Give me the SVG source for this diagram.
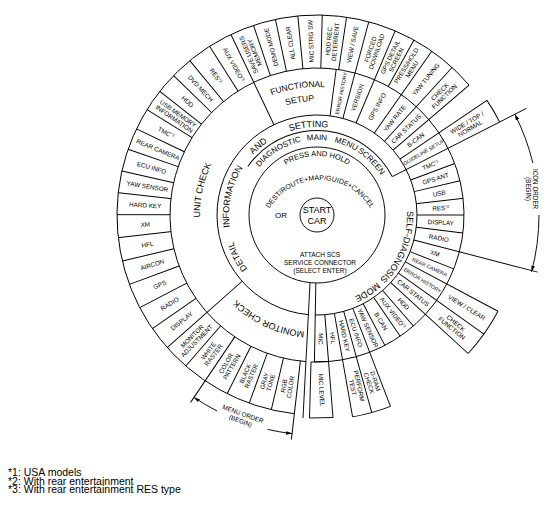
<svg xmlns="http://www.w3.org/2000/svg" width="553" height="509" viewBox="0 0 553 509">
<style>
.l{stroke:#000;stroke-width:0.95;fill:none}
text{font-family:"Liberation Sans",Arial,sans-serif;fill:#000}
.s{font-size:6.3px;text-anchor:middle}
.xs{font-size:5.2px;text-anchor:middle}
.m{font-size:8px;text-anchor:middle}
.b{font-size:9px;text-anchor:middle}
.sup{font-size:4px}
.fn{font-size:10.5px}
</style>
<defs>
<marker id="ar" viewBox="0 0 10 6" refX="10" refY="3" markerWidth="6" markerHeight="3.6" markerUnits="userSpaceOnUse" orient="auto"><path d="M0,0 L10,3 L0,6 z" fill="#000"/></marker>
<path id="p88" d="M317,303 A88,88 0 1 1 317,127 A88,88 0 1 1 317,303"/>
<path id="p75" d="M317,290 A75,75 0 1 1 317,140 A75,75 0 1 1 317,290"/>
<path id="p90" d="M317,305 A90,90 0 1 1 317,125 A90,90 0 1 1 317,305"/>
<path id="p117" d="M317,332 A117,117 0 1 1 317,98 A117,117 0 1 1 317,332"/>
<path id="p128" d="M317,343 A128,128 0 1 1 317,87 A128,128 0 1 1 317,343"/>
<path id="p114" d="M317,329 A114,114 0 1 1 317,101 A114,114 0 1 1 317,329"/>
<path id="p59" d="M317,274 A59,59 0 1 1 317,156 A59,59 0 1 1 317,274"/>
<path id="pdest" d="M270,207.7 A59,59 0 0 1 370,207.7"/>
</defs>
<rect width="553" height="509" fill="#fff"/>
<g id="connectors" class="l">
<g transform="translate(317,215)">
<circle r="17"/>
<circle r="68"/>
<circle r="84.5" pathLength="360" stroke-dasharray="118 400" transform="rotate(-145)"/>
<circle r="100" pathLength="360" stroke-dasharray="356 400" transform="rotate(-265)"/>
<circle r="147" pathLength="360" stroke-dasharray="356.7 400" transform="rotate(-265.7)"/>
<circle r="200" pathLength="360" stroke-dasharray="223 400" transform="rotate(-263.5)"/>
<circle r="205" pathLength="360" stroke-dasharray="7 400" transform="rotate(-34)"/>
<circle r="205" pathLength="360" stroke-dasharray="14.5 400" transform="rotate(28)"/>
<circle r="205" pathLength="360" stroke-dasharray="11 400" transform="rotate(69)"/>
<line x1="100" x2="200" transform="rotate(-115.5)"/>
<line x1="100" x2="200" transform="rotate(-221.5)"/>
<line x1="100" x2="200" transform="rotate(-75)"/>
<line x1="100" x2="200" transform="rotate(-67)"/>
<line x1="100" x2="200" transform="rotate(-55)"/>
<line x1="100" x2="200" transform="rotate(-47.5)"/>
<line x1="100" x2="200" transform="rotate(-40.5)"/>
<line x1="147" x2="200" transform="rotate(-122.5)"/>
<line x1="147" x2="200" transform="rotate(-129.5)"/>
<line x1="147" x2="200" transform="rotate(-135.8)"/>
<line x1="147" x2="200" transform="rotate(-141.8)"/>
<line x1="147" x2="200" transform="rotate(-148.2)"/>
<line x1="147" x2="200" transform="rotate(-154.5)"/>
<line x1="147" x2="200" transform="rotate(-160.8)"/>
<line x1="147" x2="200" transform="rotate(-167.3)"/>
<line x1="147" x2="200" transform="rotate(-173.6)"/>
<line x1="147" x2="200" transform="rotate(-179.9)"/>
<line x1="147" x2="200" transform="rotate(-186.5)"/>
<line x1="147" x2="200" transform="rotate(-193.3)"/>
<line x1="147" x2="200" transform="rotate(-200.3)"/>
<line x1="147" x2="200" transform="rotate(-207.6)"/>
<line x1="147" x2="200" transform="rotate(-214.6)"/>
<line x1="147" x2="200" transform="rotate(-229)"/>
<line x1="147" x2="226" transform="rotate(-236)"/>
<line x1="147" x2="200" transform="rotate(-243.3)"/>
<line x1="147" x2="200" transform="rotate(-250.2)"/>
<line x1="147" x2="200" transform="rotate(-256.8)"/>
<line x1="147" x2="226" transform="rotate(-263.5)"/>
<line x1="147" x2="200" transform="rotate(-108.5)"/>
<line x1="147" x2="200" transform="rotate(-102)"/>
<line x1="147" x2="200" transform="rotate(-95.5)"/>
<line x1="147" x2="200" transform="rotate(-88.5)"/>
<line x1="147" x2="200" transform="rotate(-81.5)"/>
<line x1="147" x2="200" transform="rotate(-61)"/>
<line x1="100" x2="147" transform="rotate(-82.5)"/>
<line x1="100" x2="205" transform="rotate(-34)"/>
<line x1="84.5" x2="235" transform="rotate(-27)"/>
<line x1="100" x2="147" transform="rotate(-20.5)"/>
<line x1="100" x2="147" transform="rotate(-13.5)"/>
<line x1="100" x2="147" transform="rotate(-6.5)"/>
<line x1="100" x2="147" transform="rotate(0)"/>
<line x1="100" x2="147" transform="rotate(7)"/>
<line x1="100" x2="228" transform="rotate(14.5)"/>
<line x1="100" x2="147" transform="rotate(21.5)"/>
<line x1="100" x2="205" transform="rotate(28)"/>
<line x1="100" x2="205" transform="rotate(35.5)"/>
<line x1="100" x2="205" transform="rotate(42.5)"/>
<line x1="100" x2="147" transform="rotate(49)"/>
<line x1="100" x2="147" transform="rotate(55.5)"/>
<line x1="100" x2="147" transform="rotate(62.5)"/>
<line x1="100" x2="205" transform="rotate(69)"/>
<line x1="100" x2="205" transform="rotate(74.5)"/>
<line x1="100" x2="205" transform="rotate(80)"/>
<line x1="100" x2="147" transform="rotate(85.5)"/>
<line x1="68" x2="147" transform="rotate(91)"/>
</g>
<line x1="310" y1="283" x2="303" y2="418"/>
<polygon points="311,362 328.5,361.5 333,417.5 309.5,418"/>
<path d="M532.9,163.2 A222,222 0 0 0 514.8,114.2" marker-end="url(#ar)"/>
<path d="M539,215 A222,222 0 0 1 531.6,271.7" marker-end="url(#ar)"/>
<path d="M217.1,411 A220,220 0 0 1 194,397.4" marker-end="url(#ar)"/>
<path d="M267.5,429.4 A220,220 0 0 0 292.1,433.6" marker-end="url(#ar)"/>
</g>

<g id="center">
<text class="b" x="317" y="212.5">START</text>
<text class="b" x="317" y="224">CAR</text>
<text class="m" x="281" y="218">OR</text>
<text class="m" style="font-size:7.5px"><textPath href="#p59" startOffset="50%">PRESS AND HOLD</textPath></text>
<text class="m" style="font-size:7px"><textPath href="#pdest" startOffset="50%">DEST/ROUTE+MAP/GUIDE+CANCEL</textPath></text>
<text class="s" style="font-size:6.5px"><tspan x="320" y="256.5">ATTACH SCS</tspan><tspan x="320" y="264.8">SERVICE CONNECTOR</tspan><tspan x="320" y="273.2">(SELECT ENTER)</tspan></text>
</g>
<g id="diag-main">
<text class="m"><textPath href="#p75" startOffset="41.3%">DIAGNOSTIC</textPath></text>
<text class="m"><textPath href="#p75" startOffset="50%">MAIN</textPath></text>
<text class="m"><textPath href="#p75" startOffset="56.2%">MENU</textPath></text>
<text class="m"><textPath href="#p75" startOffset="62.6%">SCREEN</textPath></text>
</g>
<g id="detail-info">
<text class="b"><textPath href="#p88" startOffset="17.3%">DETAIL</textPath></text>
<text class="b"><textPath href="#p88" startOffset="28.4%">INFORMATION</textPath></text>
<text class="b"><textPath href="#p88" startOffset="38.8%">AND</textPath></text>
<text class="b"><textPath href="#p88" startOffset="48.5%">SETTING</textPath></text>
</g>
<g id="self-diag">
<text class="b"><textPath href="#p90" startOffset="81%">SELF-DIAGNOSIS</textPath></text>
<text class="b"><textPath href="#p90" startOffset="90.8%">MODE</textPath></text>
</g>
<g id="unit-check"><text class="b"><textPath href="#p117" startOffset="28.4%">UNIT CHECK</textPath></text></g>
<g id="monitor-check"><text class="b"><textPath href="#p117" startOffset="6.9%">MONITOR CHECK</textPath></text></g>
<g id="functional-setup">
<text class="b" style="font-size:8.5px"><textPath href="#p128" startOffset="47.6%">FUNCTIONAL</textPath></text>
<text class="b" style="font-size:8.5px"><textPath href="#p114" startOffset="47.6%">SETUP</textPath></text>
</g>

<g id="items" transform="translate(317,215)">
<g id="u-aux"><text class="s" transform="rotate(-119) translate(172) rotate(180)" y="2.2">AUX VIDEO<tspan class="sup" dy="-2">*3</tspan></text></g>
<g id="u-res"><text class="s" transform="rotate(-126) translate(172) rotate(180)" y="2.2">RES<tspan class="sup" dy="-2">*2</tspan></text></g>
<g id="u-dvd"><text class="s" transform="rotate(-132.65) translate(172) rotate(180)" y="2.2">DVD MECH</text></g>
<g id="u-hdd"><text class="s" transform="rotate(-138.8) translate(172) rotate(180)" y="2.2">HDD</text></g>
<g id="u-usb"><text class="s" transform="rotate(-145) translate(172) rotate(180)"><tspan x="0" y="-1.2">USB MEMORY</tspan><tspan x="0" y="5.4">INFORMATION</tspan></text></g>
<g id="u-tmc"><text class="s" transform="rotate(-151.35) translate(172) rotate(180)" y="2.2">TMC<tspan class="sup" dy="-2">*1</tspan></text></g>
<g id="u-rear"><text class="s" transform="rotate(-157.65) translate(172) rotate(180)" y="2.2">REAR CAMERA</text></g>
<g id="u-ecu"><text class="s" transform="rotate(-164.05) translate(172) rotate(180)" y="2.2">ECU INFO</text></g>
<g id="u-yaw"><text class="s" transform="rotate(-170.45) translate(172) rotate(180)" y="2.2">YAW SENSOR</text></g>
<g id="u-hard"><text class="s" transform="rotate(-176.75) translate(172) rotate(180)" y="2.2">HARD KEY</text></g>
<g id="u-xm"><text class="s" transform="rotate(-183.2) translate(172) rotate(180)" y="2.2">XM</text></g>
<g id="u-hfl"><text class="s" transform="rotate(-189.9) translate(172) rotate(180)" y="2.2">HFL</text></g>
<g id="u-aircon"><text class="s" transform="rotate(-196.8) translate(172) rotate(180)" y="2.2">AIRCON</text></g>
<g id="u-gps"><text class="s" transform="rotate(-203.95) translate(172) rotate(180)" y="2.2">GPS</text></g>
<g id="u-radio"><text class="s" transform="rotate(-211.1) translate(172) rotate(180)" y="2.2">RADIO</text></g>
<g id="u-display"><text class="s" transform="rotate(-218.05) translate(172) rotate(180)" y="2.2">DISPLAY</text></g>

<g id="m-adj"><text class="s" transform="rotate(-225.25) translate(174) rotate(180)"><tspan x="0" y="-1.2">MONITOR</tspan><tspan x="0" y="5.4">ADJUSTMENT</tspan></text></g>
<g id="m-white"><text class="s" transform="rotate(-232.5) translate(174) rotate(180)"><tspan x="0" y="-1.2">WHITE</tspan><tspan x="0" y="5.4">RASTER</tspan></text></g>
<g id="m-color"><text class="s" transform="rotate(-239.6) translate(174) rotate(180)"><tspan x="0" y="-1.2">COLOR</tspan><tspan x="0" y="5.4">PATTERN</tspan></text></g>
<g id="m-black"><text class="s" transform="rotate(-246.75) translate(174) rotate(180)"><tspan x="0" y="-1.2">BLACK</tspan><tspan x="0" y="5.4">RASTER</tspan></text></g>
<g id="m-gray"><text class="s" transform="rotate(-253.5) translate(174) rotate(180)"><tspan x="0" y="-1.2">GRAY</tspan><tspan x="0" y="5.4">TONE</tspan></text></g>
<g id="m-rgb"><text class="s" transform="rotate(-260.15) translate(174) rotate(180)"><tspan x="0" y="-1.2">RGB</tspan><tspan x="0" y="5.4">COLOR</tspan></text></g>

<g id="f-save"><text class="s" transform="rotate(-112) translate(174)"><tspan x="0" y="-1.2">SAVE USERS</tspan><tspan x="0" y="5.4">MEMORY</tspan></text></g>
<g id="f-demo"><text class="s" transform="rotate(-105.25) translate(174)" y="2.2">DEMO MODE</text></g>
<g id="f-clear"><text class="s" transform="rotate(-98.75) translate(174)" y="2.2">ALL CLEAR</text></g>
<g id="f-mic"><text class="s" transform="rotate(-92) translate(174)" y="2.2">MIC STRG SW</text></g>
<g id="f-hddrec"><text class="s" transform="rotate(-85) translate(174)"><tspan x="0" y="-1.2">HDD REC</tspan><tspan x="0" y="5.4">DETERRENT</tspan></text></g>
<g id="f-viewsave"><text class="s" transform="rotate(-78.25) translate(174)" y="2.2">VIEW / SAVE</text></g>
<g id="f-forced"><text class="s" transform="rotate(-71) translate(174)"><tspan x="0" y="-1.2">FORCED</tspan><tspan x="0" y="5.4">DOWNLOAD</tspan></text></g>
<g id="f-gpsdetail"><text class="s" transform="rotate(-64) translate(174)"><tspan x="0" y="-1.2">GPS DETAIL</tspan><tspan x="0" y="5.4">SCREEN</tspan></text></g>
<g id="f-presshold"><text class="s" transform="rotate(-58) translate(174)"><tspan x="0" y="-1.2">PRESS/HOLD</tspan><tspan x="0" y="5.4">MENU</tspan></text></g>
<g id="f-yawtuning"><text class="s" transform="rotate(-51.25) translate(174)" y="2.2">YAW TUNING</text></g>
<g id="f-checkfn"><text class="s" transform="rotate(-44) translate(174)"><tspan x="0" y="-1.2">CHECK</tspan><tspan x="0" y="5.4">FUNCTION</tspan></text></g>

<g id="i-errhist"><text class="xs" transform="rotate(-78.75) translate(124)" y="1.9">ERROR HISTORY</text></g>
<g id="i-version"><text class="s" transform="rotate(-71) translate(124)" y="2.2">VERSION</text></g>
<g id="i-gpsinfo"><text class="s" transform="rotate(-61) translate(124)" y="2.2">GPS INFO</text></g>
<g id="i-yawrate"><text class="s" transform="rotate(-51.25) translate(124)" y="2.2">YAW RATE</text></g>
<g id="i-carstatus"><text class="s" transform="rotate(-44) translate(124)" y="2.2">CAR STATUS</text></g>
<g id="i-bcan"><text class="s" transform="rotate(-37.25) translate(124)" y="2.2">B-CAN</text></g>
<g id="i-guide"><text class="xs" transform="rotate(-30.5) translate(124)" y="1.9">GUIDELINE SETUP</text></g>
<g id="i-widetop"><text class="s" transform="rotate(-30.5) translate(176)"><tspan x="0" y="-1.2">WIDE / TOP /</tspan><tspan x="0" y="5.4">NORMAL</tspan></text></g>

<g id="d-tmc"><text class="s" transform="rotate(-23.75) translate(124)" y="2.2">TMC<tspan class="sup" dy="-2">*1</tspan></text></g>
<g id="d-gpsant"><text class="s" transform="rotate(-17) translate(124)" y="2.2">GPS ANT</text></g>
<g id="d-usb"><text class="s" transform="rotate(-10) translate(124)" y="2.2">USB</text></g>
<g id="d-res"><text class="s" transform="rotate(-3.25) translate(124)" y="2.2">RES<tspan class="sup" dy="-2">*2</tspan></text></g>
<g id="d-display"><text class="s" transform="rotate(3.5) translate(124)" y="2.2">DISPLAY</text></g>
<g id="d-radio"><text class="s" transform="rotate(10.75) translate(124)" y="2.2">RADIO</text></g>
<g id="d-xm"><text class="s" transform="rotate(18) translate(124)" y="2.2">XM</text></g>
<g id="d-rear"><text class="xs" transform="rotate(24.75) translate(124)" y="1.9">REAR CAMERA</text></g>
<g id="d-errhist"><text class="xs" transform="rotate(31.75) translate(124)" y="1.9">ERROR HISTORY</text></g>
<g id="d-viewclear"><text class="s" transform="rotate(31.75) translate(176)" y="2.2">VIEW / CLEAR</text></g>
<g id="d-carstatus"><text class="s" transform="rotate(39) translate(124)" y="2.2">CAR STATUS</text></g>
<g id="d-checkfn"><text class="s" transform="rotate(39) translate(176)"><tspan x="0" y="-1.2">CHECK</tspan><tspan x="0" y="5.4">FUNCTION</tspan></text></g>
<g id="d-hdd"><text class="s" transform="rotate(45.75) translate(124)" y="2.2">HDD</text></g>
<g id="d-aux"><text class="s" transform="rotate(52.25) translate(124)" y="2.2">AUX VIDEO<tspan class="sup" dy="-2">*2</tspan></text></g>
<g id="d-bcan"><text class="s" transform="rotate(59) translate(124)" y="2.2">B-CAN</text></g>
<g id="d-yaw"><text class="s" transform="rotate(65.75) translate(124)" y="2.2">YAW SENSOR</text></g>
<g id="d-ecu"><text class="s" transform="rotate(71.75) translate(124)" y="2.2">ECU INFO</text></g>
<g id="d-dram"><text class="s" transform="rotate(71.75) translate(176)"><tspan x="0" y="-1.2">D-RAM</tspan><tspan x="0" y="5.4">CHECK</tspan></text></g>
<g id="d-hard"><text class="s" transform="rotate(77.25) translate(124)" y="2.2">HARD KEY</text></g>
<g id="d-perform"><text class="s" transform="rotate(77.25) translate(176)"><tspan x="0" y="-1.2">PERFORM</tspan><tspan x="0" y="5.4">TEST</tspan></text></g>
<g id="d-hfl"><text class="s" transform="rotate(82.75) translate(124)" y="2.2">HFL</text></g>
<g id="d-mic"><text class="s" transform="rotate(88.25) translate(124)" y="2.2">MIC</text></g>
</g>
<g id="d-miclevel"><text class="s" transform="translate(321.5,390) rotate(87)" y="2.2">MIC LEVEL</text></g>

<g id="icon-order"><text class="s" transform="translate(535,189) rotate(90)"><tspan x="0" y="2.2">ICON ORDER</tspan><tspan x="0" y="9.2">(BEGIN)</tspan></text></g>
<g id="menu-order"><text class="s" transform="translate(243,414) rotate(20)"><tspan x="0" y="2.2">MENU ORDER</tspan><tspan x="0" y="9.5">(BEGIN)</tspan></text></g>

<g id="footnotes">
<text class="fn" x="8" y="476">*1: USA models</text>
<text class="fn" x="8" y="484.5">*2: With rear entertainment</text>
<text class="fn" x="8" y="493">*3: With rear entertainment RES type</text>
</g>
</svg>
